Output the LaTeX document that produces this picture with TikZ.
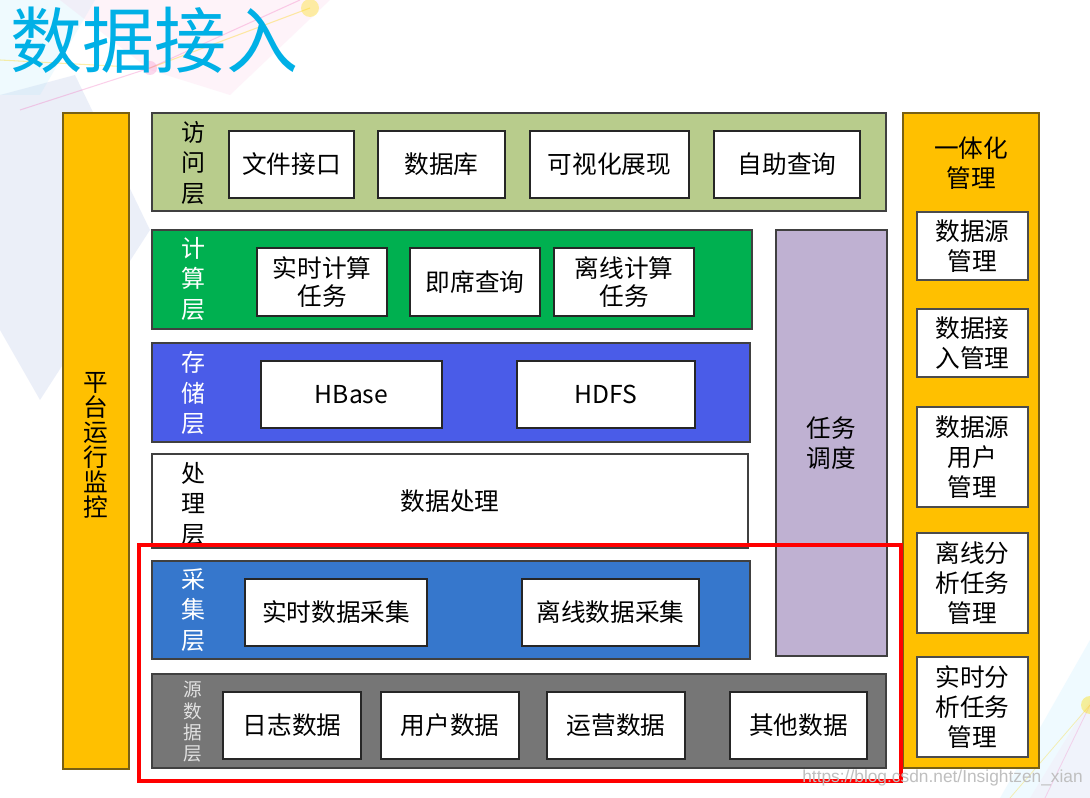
\documentclass[tikz,border=0pt]{standalone}
\usepackage{fontspec}
\setmainfont{Noto Sans CJK SC}
\newfontfamily\wmfont{Liberation Sans}
\usetikzlibrary{fit}
\definecolor{titleblue}{RGB}{0,176,230}
\definecolor{accessgreen}{RGB}{184,204,140}
\definecolor{computegreen}{RGB}{0,176,80}
\definecolor{storeblue}{RGB}{74,92,232}
\definecolor{collectblue}{RGB}{54,119,204}
\definecolor{sourcegray}{RGB}{118,118,118}
\definecolor{taskpurple}{RGB}{191,177,210}
\definecolor{mgmtorange}{RGB}{255,192,0}
\definecolor{orangeedge}{RGB}{120,96,20}
\definecolor{labelgray}{RGB}{225,225,225}
\tikzset{
  layer/.style={draw=black!75, line width=0.8pt, inner sep=0pt},
  wbox/.style={draw=black!85, fill=white, line width=0.8pt, inner sep=0pt, align=center,
     font=\fontsize{18}{21}\selectfont},
  mbox/.style={draw=black!70, fill=white, line width=0.8pt, inner sep=0pt, align=center,
     font=\fontsize{18.5}{22.5}\selectfont},
  vlabel/.style={align=center, inner sep=0pt, font=\fontsize{18}{23}\selectfont},
  bar/.style={draw=orangeedge, fill=mgmtorange, line width=0.8pt, inner sep=0pt, align=center},
}
\begin{document}
\begin{tikzpicture}[x=0.75pt,y=-0.75pt]
\useasboundingbox (0,0) rectangle (1090,798);
\fill[white] (0,0) rectangle (1090,798);
% faint background decorations
\fill[cyan!40!blue!30, opacity=0.25] (0,95) -- (75,75) -- (150,230) -- (40,400) -- (0,330) -- cycle;
\fill[cyan!30, opacity=0.2] (0,0) -- (95,0) -- (40,95) -- (0,95) -- cycle;
\fill[magenta!30, opacity=0.15] (60,0) -- (330,0) -- (230,95) -- (150,70) -- cycle;
\draw[yellow!70!orange, opacity=0.35, line width=0.8pt] (0,60) -- (150,68) -- (310,8);
\draw[magenta!60, opacity=0.3, line width=0.8pt] (20,110) -- (150,68) -- (300,0);
\fill[magenta!50, opacity=0.3] (150,68) circle (7);
\fill[yellow!80!orange, opacity=0.35] (310,8) circle (9);
\fill[blue!30!cyan!40, opacity=0.15] (1090,640) -- (1000,798) -- (1090,798) -- cycle;
\fill[magenta!20, opacity=0.15] (1090,700) -- (1030,798) -- (1090,798) -- cycle;
\draw[magenta!50, opacity=0.3, line width=0.6pt] (1090,705) -- (1045,798);
\draw[yellow!70!orange, opacity=0.3, line width=0.6pt] (1090,705) -- (1010,798);
\fill[yellow!80!orange, opacity=0.4] (1090,705) circle (9);

% title
\node[anchor=west, inner sep=0pt, text=titleblue, font=\fontsize{54}{54}\selectfont] (title) at (10,40) {数据接入};

% left bar
\node[bar, fit={(63,113) (129,769)}] (monitor) {};
\node[vlabel, font=\fontsize{18.5}{18.75}\selectfont] (monitorlbl) at (96,445) {平\\台\\运\\行\\监\\控};

% access layer
\node[layer, fill=accessgreen, fit={(152,113) (886,211)}] (access) {};
\node[vlabel] (accesslbl) at (193,163) {访\\问\\层};
\node[wbox, fit={(229,131) (354,198)}] (a1) {};
\node at (a1.center) [font=\fontsize{18.5}{21}\selectfont] (a1t) {文件接口};
\node[wbox, fit={(378,131) (505,198)}] (a2) {};
\node at (a2.center) [font=\fontsize{18.5}{21}\selectfont] (a2t) {数据库};
\node[wbox, fit={(530,131) (689,198)}] (a3) {};
\node at (a3.center) [font=\fontsize{18.5}{21}\selectfont] (a3t) {可视化展现};
\node[wbox, fit={(714,131) (860,198)}] (a4) {};
\node at (a4.center) [font=\fontsize{18.5}{21}\selectfont] (a4t) {自助查询};

% compute layer
\node[layer, fill=computegreen, fit={(152,230) (752,329)}] (compute) {};
\node[vlabel, text=white] (computelbl) at (193,279) {计\\算\\层};
\node[wbox, fit={(257,248) (387,316)}] (c1) {};
\node[align=center, font=\fontsize{18.5}{21}\selectfont] at (c1.center) (c1t) {实时计算\\任务};
\node[wbox, fit={(410,248) (540,316)}] (c2) {};
\node[font=\fontsize{18.5}{21}\selectfont] at (c2.center) (c2t) {即席查询};
\node[wbox, fit={(554,248) (694,316)}] (c3) {};
\node[align=center, font=\fontsize{18.5}{21}\selectfont] at (c3.center) (c3t) {离线计算\\任务};

% storage layer
\node[layer, fill=storeblue, fit={(152,343) (750,442)}] (storage) {};
\node[vlabel, text=white] (storagelbl) at (193,393) {存\\储\\层};
\node[wbox, fit={(261,361) (442,428)}] (s1) {};
\node[font=\fontsize{18.5}{21}\selectfont] at (s1.center) (s1t) {HBase};
\node[wbox, fit={(517,361) (695,428)}] (s2) {};
\node[font=\fontsize{18.5}{21}\selectfont] at (s2.center) (s2t) {HDFS};

% processing layer
\node[layer, fill=white, fit={(152,454) (748,548)}] (process) {};
\node[vlabel] (processlbl) at (193,504) {处\\理\\层};
\node[font=\fontsize{18.5}{21}\selectfont] (processt) at (450,501) {数据处理};

% collection layer
\node[layer, fill=collectblue, fit={(152,561) (750,659)}] (collect) {};
\node[vlabel, text=white] (collectlbl) at (193,610) {采\\集\\层};
\node[wbox, fit={(245,579) (427,646)}] (g1) {};
\node[font=\fontsize{18.5}{21}\selectfont] at (g1.center) (g1t) {实时数据采集};
\node[wbox, fit={(522,579) (699,646)}] (g2) {};
\node[font=\fontsize{18.5}{21}\selectfont] at (g2.center) (g2t) {离线数据采集};

% source layer
\node[layer, fill=sourcegray, fit={(152,674) (886,768)}] (source) {};
\node[vlabel, text=labelgray, font=\fontsize{14}{16}\selectfont] (sourcelbl) at (193,722) {源\\数\\据\\层};
\node[wbox, fit={(223,692) (361,759)}] (d1) {};
\node[font=\fontsize{18.5}{21}\selectfont] at (d1.center) (d1t) {日志数据};
\node[wbox, fit={(381,692) (519,759)}] (d2) {};
\node[font=\fontsize{18.5}{21}\selectfont] at (d2.center) (d2t) {用户数据};
\node[wbox, fit={(547,692) (685,759)}] (d3) {};
\node[font=\fontsize{18.5}{21}\selectfont] at (d3.center) (d3t) {运营数据};
\node[wbox, fit={(730,692) (867,759)}] (d4) {};
\node[font=\fontsize{18.5}{21}\selectfont] at (d4.center) (d4t) {其他数据};

% task scheduling
\node[layer, fill=taskpurple, fit={(776,230) (887,656)}] (task) {};
\node[align=center, font=\fontsize{18.5}{22.5}\selectfont] at (task.center) (taskt) {任务\\调度};

% management column
\node[bar, fit={(903,113) (1039,768)}] (mgmt) {};
\node[align=center, font=\fontsize{18.5}{22.5}\selectfont] (mgmtt) at (971,163) {一体化\\管理};
\node[mbox, fit={(917,212) (1028,280)}] (m1) {};
\node[align=center, font=\fontsize{18.5}{22.5}\selectfont] at (m1.center) (m1t) {数据源\\管理};
\node[mbox, fit={(917,309) (1028,377)}] (m2) {};
\node[align=center, font=\fontsize{18.5}{22.5}\selectfont] at (m2.center) (m2t) {数据接\\入管理};
\node[mbox, fit={(917,407) (1028,507)}] (m3) {};
\node[align=center, font=\fontsize{18.5}{22.5}\selectfont] at (m3.center) (m3t) {数据源\\用户\\管理};
\node[mbox, fit={(917,533) (1028,633)}] (m4) {};
\node[align=center, font=\fontsize{18.5}{22.5}\selectfont] at (m4.center) (m4t) {离线分\\析任务\\管理};
\node[mbox, fit={(917,657) (1028,757)}] (m5) {};
\node[align=center, font=\fontsize{18.5}{22.5}\selectfont] at (m5.center) (m5t) {实时分\\析任务\\管理};

% red highlight
\draw[red, line width=3.5pt] (139,545) rectangle (901,781);

% watermark
\node[anchor=east, inner sep=0pt, text=black!25, font=\wmfont\fontsize{13}{13}\selectfont] (wm) at (1083,778) {https://blog.csdn.net/Insightzen\_xian};
\end{tikzpicture}
\end{document}
